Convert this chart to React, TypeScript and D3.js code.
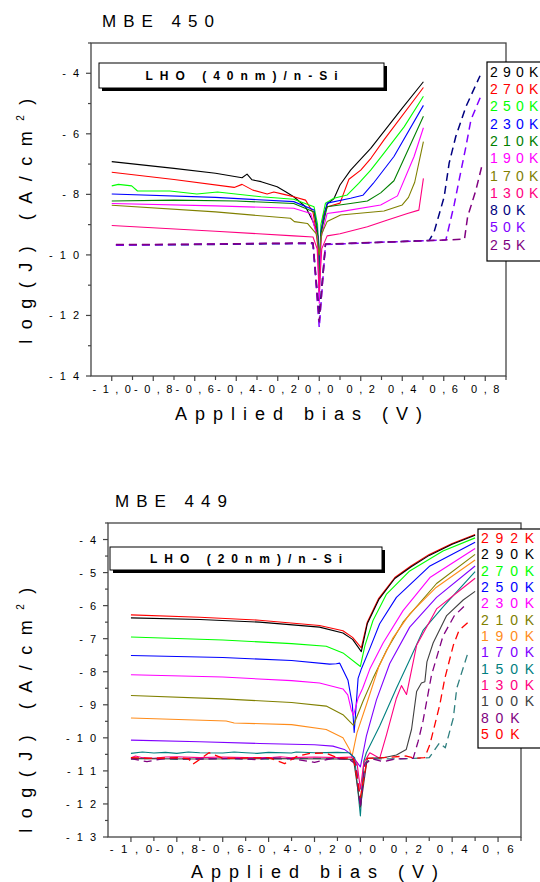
import React from 'react';
import * as d3 from 'd3';

type Pt = [number, number];

// ================= MBE 450 (top panel) =================
const topTemps = ['290K', '270K', '250K', '230K', '210K', '190K', '170K', '130K', '80K', '50K', '25K'];
const topColors = ['#000000', '#ff0000', '#00ff00', '#0000ff', '#008000', '#ff00ff', '#808000', '#ff0080', '#000080', '#8000ff', '#800080'];
const topDashed = [false, false, false, false, false, false, false, false, true, true, true];

const top290K: Pt[] = [[-1.0, -6.92], [-0.7, -7.14], [-0.5, -7.30], [-0.372, -7.45], [-0.348, -7.33], [-0.324, -7.52], [-0.28, -7.58], [-0.203, -7.75], [-0.16, -7.92], [-0.123, -8.08], [-0.066, -8.41], [-0.03, -8.9], [-0.005, -9.40], [0.0, -11.5], [0.006, -9.6], [0.02, -8.7], [0.04, -8.3], [0.07, -8.15], [0.1, -7.69], [0.151, -7.2], [0.248, -6.48], [0.40, -5.15], [0.502, -4.28]];
const top270K: Pt[] = [[-1.0, -7.27], [-0.7, -7.51], [-0.41, -7.77], [-0.372, -7.67], [-0.32, -7.86], [-0.251, -7.99], [-0.219, -7.92], [-0.17, -8.0], [-0.123, -8.08], [-0.066, -8.19], [-0.03, -8.6], [-0.005, -9.61], [0.0, -11.0], [0.008, -9.3], [0.025, -8.6], [0.04, -8.41], [0.1, -8.29], [0.143, -7.5], [0.2, -7.2], [0.25, -6.8], [0.312, -6.2], [0.502, -4.47]];
const top250K: Pt[] = [[-1.0, -7.72], [-0.968, -7.67], [-0.904, -7.72], [-0.876, -7.89], [-0.72, -7.89], [-0.59, -7.99], [-0.49, -7.92], [-0.28, -8.08], [-0.123, -8.16], [-0.025, -8.41], [-0.008, -9.0], [0.0, -10.8], [0.008, -9.0], [0.03, -8.29], [0.07, -8.13], [0.135, -8.02], [0.19, -7.64], [0.248, -7.2], [0.312, -6.64], [0.409, -5.77], [0.502, -4.76]];
const top230K: Pt[] = [[-1.0, -7.99], [-0.5, -8.10], [-0.123, -8.24], [-0.025, -8.52], [-0.008, -9.2], [0.0, -10.4], [0.008, -9.2], [0.038, -8.29], [0.151, -8.13], [0.21, -8.03], [0.26, -7.64], [0.36, -6.75], [0.502, -5.06]];
const top210K: Pt[] = [[-1.0, -8.22], [-0.7, -8.19], [-0.4, -8.22], [-0.123, -8.30], [-0.025, -8.58], [-0.008, -9.3], [0.0, -10.9], [0.008, -9.3], [0.038, -8.41], [0.15, -8.30], [0.232, -8.22], [0.296, -7.95], [0.36, -7.55], [0.502, -5.42]];
const top190K: Pt[] = [[-1.0, -8.30], [-0.5, -8.38], [-0.123, -8.46], [-0.041, -8.63], [-0.01, -9.4], [0.0, -11.6], [0.01, -9.4], [0.038, -8.63], [0.103, -8.57], [0.296, -8.35], [0.377, -8.05], [0.457, -6.75], [0.502, -5.8]];
const top170K: Pt[] = [[-1.0, -8.36], [-0.5, -8.58], [-0.139, -8.79], [-0.12, -8.9], [-0.057, -8.96], [-0.015, -9.3], [0.0, -10.0], [0.012, -9.3], [0.038, -8.90], [0.103, -8.68], [0.312, -8.55], [0.4, -8.35], [0.43, -8.1], [0.46, -7.6], [0.502, -6.26]];
const top130K: Pt[] = [[-1.0, -9.03], [-0.5, -9.22], [-0.123, -9.37], [-0.03, -9.41], [-0.01, -9.8], [0.0, -11.2], [0.012, -9.8], [0.038, -9.37], [0.1, -9.30], [0.232, -9.07], [0.329, -8.85], [0.425, -8.63], [0.48, -8.52], [0.502, -7.47]];
const top80K: Pt[] = [[-0.98, -9.67], [-0.6, -9.66], [-0.2, -9.63], [-0.03, -9.62], [0.0, -12.0], [0.03, -9.65], [0.3, -9.58], [0.53, -9.52], [0.554, -9.23], [0.602, -8.08], [0.626, -6.97], [0.658, -6.09], [0.707, -5.10], [0.775, -4.08]];
const top50K: Pt[] = [[-0.98, -9.68], [-0.7, -9.66], [-0.3, -9.62], [-0.03, -9.62], [0.0, -12.4], [0.03, -9.66], [0.3, -9.58], [0.55, -9.52], [0.61, -9.51], [0.65, -8.35], [0.674, -7.53], [0.707, -6.42], [0.731, -5.54], [0.785, -4.65]];
const top25K: Pt[] = [[-0.98, -9.66], [-0.5, -9.64], [-0.03, -9.6], [0.0, -12.2], [0.03, -9.64], [0.4, -9.56], [0.70, -9.48], [0.715, -8.74], [0.755, -7.86], [0.787, -6.97]];
const topSeries: Pt[][] = [top290K, top270K, top250K, top230K, top210K, top190K, top170K, top130K, top80K, top50K, top25K];

const topXMajor = [-1.0, -0.8, -0.6, -0.4, -0.2, 0.0, 0.2, 0.4, 0.6, 0.8];
const topXLabels = ['-1,0', '-0,8', '-0,6', '-0,4', '-0,2', '0,0', '0,2', '0,4', '0,6', '0,8'];
const topXMinor = [-0.9, -0.7, -0.5, -0.3, -0.1, 0.1, 0.3, 0.5, 0.7, 0.9];
const topYMajor = [-4, -6, -8, -10, -12, -14];
const topYLabels = ['-4', '-6', '-8', '-10', '-12', '-14'];
const topYMinor = [-3, -5, -7, -9, -11, -13];

// ================= MBE 449 (bottom panel) =================
const botTemps = ['292K', '290K', '270K', '250K', '230K', '210K', '190K', '170K', '150K', '130K', '100K', '80K', '50K'];
const botLegendColors = ['#ff0000', '#000000', '#00ff00', '#0000ff', '#ff00ff', '#808000', '#ff8c1a', '#8000ff', '#008080', '#ff0080', '#404040', '#800080', '#ff0000'];

const bot292K: Pt[] = [[-1.0, -6.28], [-0.7, -6.35], [-0.44, -6.44], [-0.178, -6.60], [-0.076, -6.76], [-0.034, -6.96], [0.004, -7.28], [0.03, -6.5], [0.08, -5.78], [0.15, -5.15], [0.22, -4.8], [0.3, -4.45], [0.4, -4.12], [0.5, -3.85]];
const bot290K: Pt[] = [[-1.0, -6.37], [-0.7, -6.42], [-0.44, -6.50], [-0.178, -6.65], [-0.076, -6.83], [-0.034, -7.02], [0.004, -7.39], [0.03, -6.55], [0.08, -5.82], [0.15, -5.18], [0.22, -4.83], [0.3, -4.48], [0.4, -4.14], [0.5, -3.87]];
const bot270K: Pt[] = [[-1.0, -6.95], [-0.6, -7.04], [-0.3, -7.15], [-0.149, -7.23], [-0.076, -7.43], [0.0, -7.84], [0.02, -7.2], [0.055, -6.45], [0.114, -5.65], [0.215, -4.95], [0.36, -4.35], [0.5, -3.95]];
const bot250K: Pt[] = [[-1.0, -7.51], [-0.6, -7.57], [-0.3, -7.66], [-0.134, -7.77], [-0.105, -7.76], [-0.09, -7.74], [-0.054, -8.26], [-0.035, -9.0], [-0.027, -9.84], [-0.01, -8.2], [0.005, -7.9], [0.041, -7.3], [0.084, -6.55], [0.157, -5.75], [0.303, -4.8], [0.5, -4.08]];
const bot230K: Pt[] = [[-1.0, -8.09], [-0.6, -8.16], [-0.3, -8.27], [-0.178, -8.34], [-0.076, -8.52], [-0.055, -8.7], [-0.04, -9.15], [-0.03, -9.32], [-0.01, -8.8], [0.01, -8.5], [0.041, -7.92], [0.099, -7.13], [0.186, -6.15], [0.303, -5.15], [0.5, -4.27]];
const bot210K: Pt[] = [[-1.0, -8.72], [-0.6, -8.82], [-0.3, -8.93], [-0.149, -9.04], [-0.076, -9.30], [-0.03, -9.62], [0.011, -8.9], [0.055, -8.2], [0.114, -7.35], [0.186, -6.5], [0.332, -5.33], [0.5, -4.45]];
const bot190K: Pt[] = [[-1.0, -9.40], [-0.585, -9.49], [-0.55, -9.55], [-0.3, -9.6], [-0.149, -9.75], [-0.076, -10.0], [-0.047, -10.35], [-0.037, -10.58], [-0.015, -9.85], [0.026, -9.0], [0.08, -7.85], [0.14, -7.0], [0.215, -6.25], [0.33, -5.45], [0.5, -4.62]];
const bot170K: Pt[] = [[-1.0, -10.07], [-0.7, -10.12], [-0.44, -10.17], [-0.2, -10.21], [-0.12, -10.25], [-0.07, -10.35], [-0.04, -10.5], [0.0, -10.88], [0.026, -9.95], [0.07, -8.85], [0.128, -7.75], [0.215, -6.65], [0.332, -5.75], [0.5, -4.8]];
const bot150K: Pt[] = [[-1.0, -10.47], [-0.95, -10.43], [-0.9, -10.46], [-0.85, -10.44], [-0.8, -10.47], [-0.75, -10.43], [-0.7, -10.45], [-0.6, -10.46], [-0.55, -10.43], [-0.5, -10.45], [-0.45, -10.47], [-0.4, -10.44], [-0.3, -10.46], [-0.28, -10.43], [-0.2, -10.45], [-0.1, -10.44], [-0.05, -10.45], [-0.025, -10.6], [0.0, -12.36], [0.015, -10.7], [0.026, -10.45], [0.084, -9.64], [0.157, -8.5], [0.215, -7.64], [0.273, -6.75], [0.361, -6.03], [0.5, -4.97]];
const bot130K: Pt[] = [[-1.0, -10.6], [-0.98, -10.55], [-0.95, -10.6], [-0.9, -10.62], [-0.85, -10.58], [-0.8, -10.57], [-0.7, -10.6], [-0.6, -10.58], [-0.5, -10.6], [-0.4, -10.6], [-0.35, -10.57], [-0.3, -10.6], [-0.2, -10.58], [-0.1, -10.6], [-0.04, -10.58], [-0.015, -10.75], [0.0, -11.55], [0.015, -10.75], [0.041, -10.45], [0.084, -10.62], [0.114, -9.9], [0.157, -8.8], [0.179, -8.42], [0.201, -8.69], [0.245, -7.2], [0.332, -6.1], [0.5, -5.17]];
const bot100K: Pt[] = [[-1.0, -10.63], [-0.7, -10.64], [-0.4, -10.63], [-0.1, -10.64], [-0.03, -10.65], [0.0, -12.1], [0.03, -10.62], [0.1, -10.6], [0.157, -10.52], [0.2, -10.35], [0.223, -9.74], [0.245, -8.6], [0.266, -8.34], [0.281, -8.3], [0.29, -7.7], [0.317, -7.13], [0.376, -6.3], [0.448, -5.83], [0.5, -5.57]];
const bot80K: Pt[] = [[-1.0, -10.63], [-0.93, -10.72], [-0.85, -10.62], [-0.7, -10.64], [-0.55, -10.62], [-0.45, -10.66], [-0.4, -10.6], [-0.3, -10.63], [-0.2, -10.74], [-0.12, -10.62], [-0.05, -10.64], [-0.02, -10.8], [0.0, -12.1], [0.02, -10.8], [0.05, -10.63], [0.1, -10.72], [0.15, -10.64], [0.23, -10.62], [0.252, -10.1], [0.273, -9.49], [0.31, -8.1], [0.36, -6.92], [0.41, -6.3], [0.463, -5.95]];
const bot50K: Pt[] = [[-1.0, -10.6], [-0.9, -10.62], [-0.8, -10.6], [-0.75, -10.63], [-0.73, -10.8], [-0.66, -10.45], [-0.6, -10.62], [-0.4, -10.6], [-0.33, -10.78], [-0.28, -10.57], [-0.22, -10.47], [-0.15, -10.46], [-0.1, -10.6], [-0.03, -10.62], [0.0, -11.8], [0.03, -10.62], [0.1, -10.6], [0.2, -10.55], [0.24, -10.62], [0.28, -10.6], [0.303, -10.2], [0.346, -9.0], [0.368, -8.2], [0.405, -7.2], [0.43, -6.75], [0.47, -6.5]];
const botExtra: Pt[] = [[-1.0, -10.64], [-0.9, -10.62], [-0.8, -10.65], [-0.6, -10.63], [-0.4, -10.64], [-0.2, -10.62], [-0.05, -10.64], [-0.02, -10.75], [0.0, -11.9], [0.02, -10.75], [0.05, -10.64], [0.2, -10.63], [0.3, -10.6], [0.345, -10.15], [0.37, -10.3], [0.405, -9.4], [0.42, -8.5], [0.47, -7.4]];
const botSeries: Pt[][] = [botExtra, bot292K, bot290K, bot270K, bot250K, bot230K, bot210K, bot190K, bot170K, bot150K, bot130K, bot100K, bot80K, bot50K];
const botColors = ['#2f7f7f', '#ff0000', '#000000', '#00ff00', '#0000ff', '#ff00ff', '#808000', '#ff8c1a', '#8000ff', '#008080', '#ff0080', '#404040', '#800080', '#ff0000'];
const botDashed = [true, false, false, false, false, false, false, false, false, false, false, false, true, true];

const botXMajor = [-1.0, -0.8, -0.6, -0.4, -0.2, 0.0, 0.2, 0.4, 0.6];
const botXLabels = ['-1,0', '-0,8', '-0,6', '-0,4', '-0,2', '0,0', '0,2', '0,4', '0,6'];
const botXMinor = [-0.9, -0.7, -0.5, -0.3, -0.1, 0.1, 0.3, 0.5, 0.7];
const botYMajor = [-4, -5, -6, -7, -8, -9, -10, -11, -12, -13];
const botYLabels = ['-4', '-5', '-6', '-7', '-8', '-9', '-10', '-11', '-12', '-13'];
const botYMinor = [-3.5, -4.5, -5.5, -6.5, -7.5, -8.5, -9.5, -10.5, -11.5, -12.5];

const FONT = "'Liberation Sans', Arial, Helvetica, sans-serif";

// Letter-spaced text without trailing spacing: each glyph after the first is shifted by dx.
function SText(p: { x: number; y: number; text: string; size: number; ls: number; anchor?: 'start' | 'middle' | 'end'; weight?: string; fill?: string }) {
  const chars = Array.from(p.text);
  return (
    <text x={p.x} y={p.y} fontFamily={FONT} fontSize={p.size}
      textAnchor={p.anchor || 'start'} fontWeight={p.weight || 'normal'} fill={p.fill || '#000'}>
      {chars.map((c, i) => (
        <tspan key={i} dx={i === 0 ? 0 : p.ls}>{c === ' ' ? '\u00a0' : c}</tspan>
      ))}
    </text>
  );
}

interface PanelProps {
  series: Pt[][]; colors: string[]; dashed: boolean[];
  legendLabels: string[]; legendColors: string[];
  xDomain: [number, number]; yDomain: [number, number];
  left: number; right: number; top: number; bottom: number;
  xMajor: number[]; xLabels: string[]; xMinor: number[];
  yMajor: number[]; yLabels: string[]; yMinor: number[];
  title: string; titleX: number; titleY: number;
  boxLabel: string; boxX: number; boxY: number; boxW: number; boxH: number;
  legX: number; legY: number; legH: number; legRow0: number; legStep: number; legLs: number;
  xLabelY: number; xTitleY: number; yLabelRight: number; yTitleX: number; yTitleY: number;
  xLabelSize: number; xLabelLs: number; dashThick: number;
}

function Panel(p: PanelProps) {
  const x = d3.scaleLinear().domain(p.xDomain).range([p.left, p.right]);
  const y = d3.scaleLinear().domain(p.yDomain).range([p.bottom, p.top]);
  const line = d3.line<Pt>().x(d => x(d[0])).y(d => y(d[1]));
  const axisColor = '#444';
  return (
    <g>
      <SText x={p.titleX} y={p.titleY} text={p.title} size={17} ls={7} />
      {/* curves */}
      {p.series.map((s, i) => (
        <path key={i} d={line(s) || ''} fill="none" stroke={p.colors[i]}
          strokeWidth={p.dashed[i] ? p.dashThick : 1.1}
          strokeDasharray={p.dashed[i] ? '8 5' : undefined} strokeLinejoin="round" />
      ))}
      {/* frame */}
      <rect x={p.left} y={p.top} width={p.right - p.left} height={p.bottom - p.top} fill="none" stroke={axisColor} strokeWidth={1.3} />
      {/* x ticks */}
      {p.xMajor.map((v, i) => (
        <g key={'xm' + i}>
          <line x1={x(v)} x2={x(v)} y1={p.bottom} y2={p.bottom + 5} stroke={axisColor} strokeWidth={1.2} />
          <SText x={x(v)} y={p.xLabelY} text={p.xLabels[i]} size={p.xLabelSize} ls={p.xLabelLs} anchor="middle" />
        </g>
      ))}
      {p.xMinor.map((v, i) => (
        <line key={'xn' + i} x1={x(v)} x2={x(v)} y1={p.bottom} y2={p.bottom + 4} stroke={axisColor} strokeWidth={1.2} />
      ))}
      {/* y ticks */}
      {p.yMajor.map((v, i) => (
        <g key={'ym' + i}>
          <line x1={p.left - 5} x2={p.left} y1={y(v)} y2={y(v)} stroke={axisColor} strokeWidth={1.2} />
          <SText x={p.yLabelRight} y={y(v) + 4} text={p.yLabels[i]} size={11} ls={7} anchor="end" />
        </g>
      ))}
      {p.yMinor.map((v, i) => (
        <line key={'yn' + i} x1={p.left - 3} x2={p.left} y1={y(v)} y2={y(v)} stroke={axisColor} strokeWidth={1.2} />
      ))}
      {/* axis titles */}
      <SText x={(p.left + p.right) / 2} y={p.xTitleY} text="Applied bias (V)" size={18} ls={8} anchor="middle" />
      <g transform={`translate(${p.yTitleX},${p.yTitleY}) rotate(-90)`}>
        <text x={0} y={0} fontFamily={FONT} fontSize={18} letterSpacing={10.5} textAnchor="middle">
          log(J) (A/cm<tspan dy={-8} fontSize={10}>2</tspan><tspan dy={8}>)</tspan>
        </text>
      </g>
      {/* label box */}
      <rect x={p.boxX + 3} y={p.boxY + 3} width={p.boxW} height={p.boxH} fill="#000" />
      <rect x={p.boxX} y={p.boxY} width={p.boxW} height={p.boxH} fill="#fff" stroke="#000" strokeWidth={1} />
      <SText x={p.boxX + p.boxW / 2} y={p.boxY + p.boxH / 2 + 4.5} text={p.boxLabel} size={12} ls={7} weight="bold" anchor="middle" />
      {/* legend */}
      <rect x={p.legX} y={p.legY} width={120} height={p.legH} fill="#fff" stroke="#000" strokeWidth={1.2} />
      {p.legendLabels.map((t, i) => (
        <SText key={'lg' + i} x={p.legX + 3} y={p.legRow0 + i * p.legStep + 5} text={t} size={14} ls={p.legLs} fill={p.legendColors[i]} />
      ))}
    </g>
  );
}

export default function App() {
  return (
    <svg width={540} height={882} style={{ position: 'absolute', left: 0, top: 0, background: '#fff' }}>
      <rect x={0} y={0} width={540} height={882} fill="#fff" />
      <Panel
        series={topSeries} colors={topColors} dashed={topDashed}
        legendLabels={topTemps} legendColors={topColors}
        xDomain={[-1.1, 0.9]} yDomain={[-14, -3]}
        left={91} right={506} top={43} bottom={376}
        xMajor={topXMajor} xLabels={topXLabels} xMinor={topXMinor}
        yMajor={topYMajor} yLabels={topYLabels} yMinor={topYMinor}
        title="MBE 450" titleX={102} titleY={27}
        boxLabel="LHO (40nm)/n-Si" boxX={99} boxY={63} boxW={285} boxH={25}
        legX={487} legY={62} legH={199} legRow0={71.7} legStep={17.3} legLs={5.2}
        xLabelY={393} xTitleY={420} yLabelRight={79} yTitleX={32} yTitleY={216}
        xLabelSize={11} xLabelLs={6.5} dashThick={1.5}
      />
      <Panel
        series={botSeries} colors={botColors} dashed={botDashed}
        legendLabels={botTemps} legendColors={botLegendColors}
        xDomain={[-1.1, 0.7]} yDomain={[-13, -3.5]}
        left={108} right={521} top={523} bottom={837}
        xMajor={botXMajor} xLabels={botXLabels} xMinor={botXMinor}
        yMajor={botYMajor} yLabels={botYLabels} yMinor={botYMinor}
        title="MBE 449" titleX={115} titleY={507}
        boxLabel="LHO (20nm)/n-Si" boxX={110} boxY={547} boxW={272} boxH={23}
        legX={478} legY={529} legH={219} legRow0={538} legStep={16.33} legLs={6.8}
        xLabelY={853} xTitleY={878} yLabelRight={96} yTitleX={32} yTitleY={705}
        xLabelSize={11.5} xLabelLs={7.5} dashThick={1.3}
      />
    </svg>
  );
}
